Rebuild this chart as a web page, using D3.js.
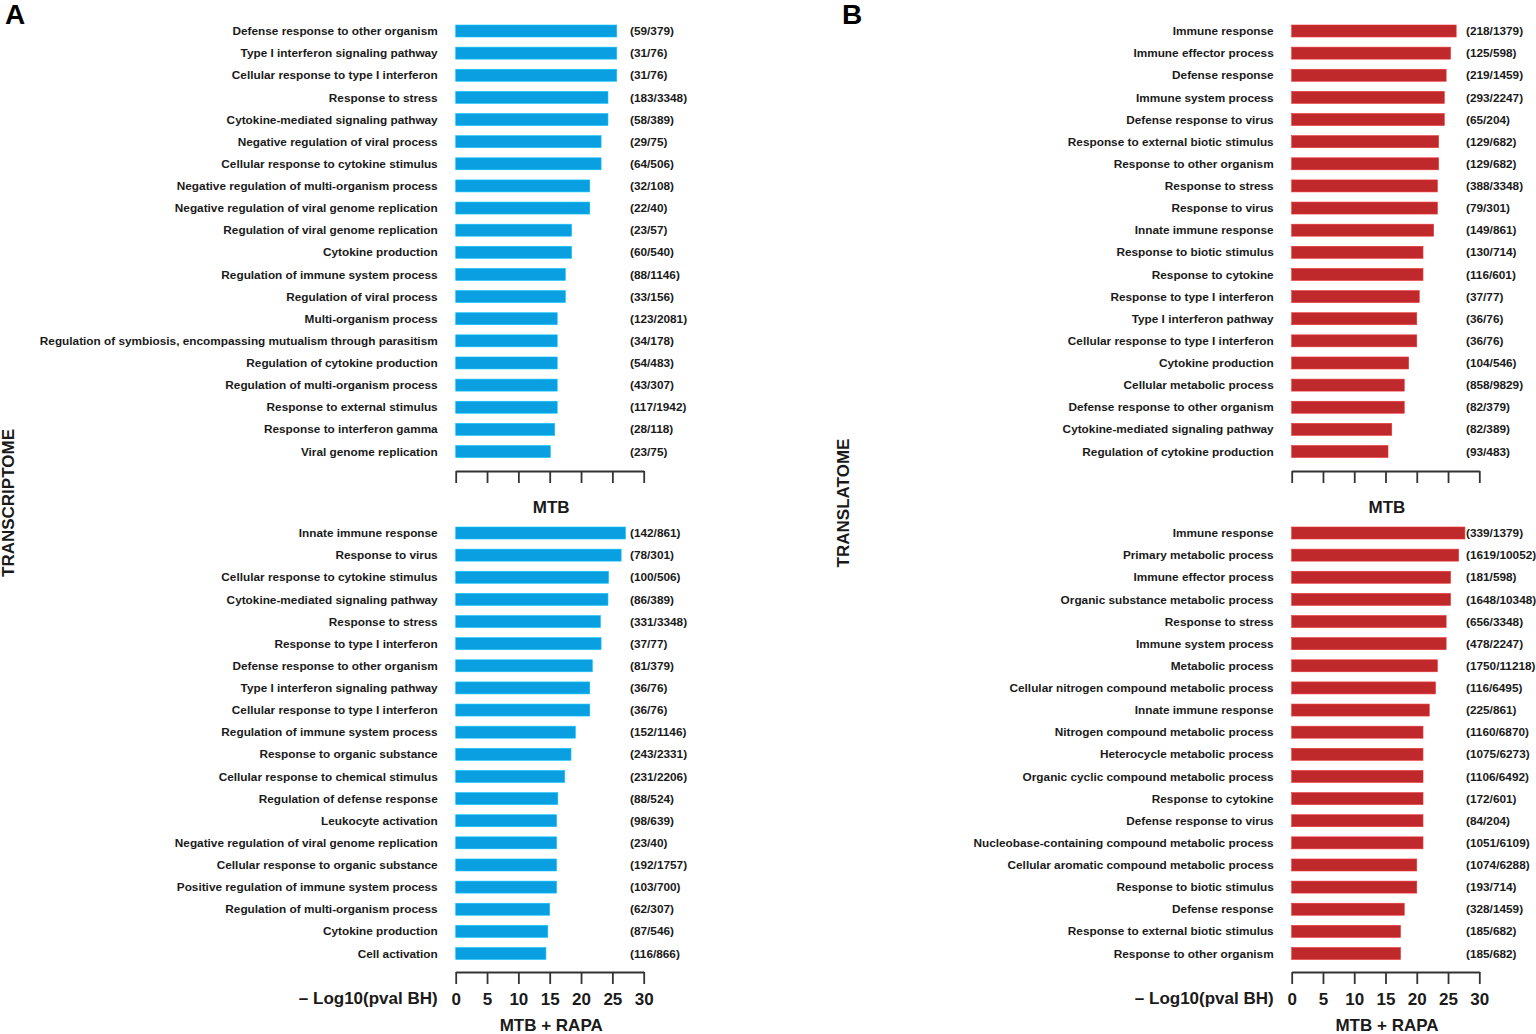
<!DOCTYPE html>
<html><head><meta charset="utf-8">
<script src="https://cdn.jsdelivr.net/npm/d3@7"></script>
<style>
body{margin:0;background:#fff;}
svg{display:block;font-family:"Liberation Sans",Arial,sans-serif;}
</style></head><body>
<svg id="c" width="1536" height="1034"></svg>
<script>
// ---------- DATA ----------
const aTopTerms = ["Defense response to other organism","Type I interferon signaling pathway","Cellular response to type I interferon","Response to stress","Cytokine-mediated signaling pathway","Negative regulation of viral process","Cellular response to cytokine stimulus","Negative regulation of multi-organism process","Negative regulation of viral genome replication","Regulation of viral genome replication","Cytokine production","Regulation of immune system process","Regulation of viral process","Multi-organism process","Regulation of symbiosis, encompassing mutualism through parasitism","Regulation of cytokine production","Regulation of multi-organism process","Response to external stimulus","Response to interferon gamma","Viral genome replication"];
const aTopCounts = ["(59/379)","(31/76)","(31/76)","(183/3348)","(58/389)","(29/75)","(64/506)","(32/108)","(22/40)","(23/57)","(60/540)","(88/1146)","(33/156)","(123/2081)","(34/178)","(54/483)","(43/307)","(117/1942)","(28/118)","(23/75)"];
const aTopValues = [25.7,25.7,25.7,24.3,24.3,23.2,23.2,21.4,21.4,18.5,18.5,17.5,17.5,16.2,16.2,16.2,16.2,16.2,15.8,15.1];

const aBotTerms = ["Innate immune response","Response to virus","Cellular response to cytokine stimulus","Cytokine-mediated signaling pathway","Response to stress","Response to type I interferon","Defense response to other organism","Type I interferon signaling pathway","Cellular response to type I interferon","Regulation of immune system process","Response to organic substance","Cellular response to chemical stimulus","Regulation of defense response","Leukocyte activation","Negative regulation of viral genome replication","Cellular response to organic substance","Positive regulation of immune system process","Regulation of multi-organism process","Cytokine production","Cell activation"];
const aBotCounts = ["(142/861)","(78/301)","(100/506)","(86/389)","(331/3348)","(37/77)","(81/379)","(36/76)","(36/76)","(152/1146)","(243/2331)","(231/2206)","(88/524)","(98/639)","(23/40)","(192/1757)","(103/700)","(62/307)","(87/546)","(116/866)"];
const aBotValues = [27.1,26.4,24.4,24.3,23.1,23.2,21.8,21.4,21.4,19.1,18.4,17.4,16.3,16.1,16.1,16.1,16.1,15.0,14.7,14.4];

const bTopTerms = ["Immune response","Immune effector process","Defense response","Immune system process","Defense response to virus","Response to external biotic stimulus","Response to other organism","Response to stress","Response to virus","Innate immune response","Response to biotic stimulus","Response to cytokine","Response to type I interferon","Type I interferon pathway","Cellular response to type I interferon","Cytokine production","Cellular metabolic process","Defense response to other organism","Cytokine-mediated signaling pathway","Regulation of cytokine production"];
const bTopCounts = ["(218/1379)","(125/598)","(219/1459)","(293/2247)","(65/204)","(129/682)","(129/682)","(388/3348)","(79/301)","(149/861)","(130/714)","(116/601)","(37/77)","(36/76)","(36/76)","(104/546)","(858/9829)","(82/379)","(82/389)","(93/483)"];
const bTopValues = [26.3,25.4,24.7,24.4,24.4,23.5,23.5,23.3,23.3,22.7,21.0,21.0,20.4,20.0,20.0,18.7,18.0,18.0,16.0,15.4];

const bBotTerms = ["Immune response","Primary metabolic process","Immune effector process","Organic substance metabolic process","Response to stress","Immune system process","Metabolic process","Cellular nitrogen compound metabolic process","Innate immune response","Nitrogen compound metabolic process","Heterocycle metabolic process","Organic cyclic compound metabolic process","Response to cytokine","Defense response to virus","Nucleobase-containing compound metabolic process","Cellular aromatic compound metabolic process","Response to biotic stimulus","Defense response","Response to external biotic stimulus","Response to other organism"];
const bBotCounts = ["(339/1379)","(1619/10052)","(181/598)","(1648/10348)","(656/3348)","(478/2247)","(1750/11218)","(116/6495)","(225/861)","(1160/6870)","(1075/6273)","(1106/6492)","(172/601)","(84/204)","(1051/6109)","(1074/6288)","(193/714)","(328/1459)","(185/682)","(185/682)"];
const bBotValues = [27.7,26.7,25.4,25.4,24.7,24.7,23.3,23.0,22.0,21.0,21.0,21.0,21.0,21.0,21.0,20.0,20.0,18.0,17.4,17.4];

const xTicks = [0,5,10,15,20,25,30];
const panelLetters = ["A","B"];
const sideTitles = ["TRANSCRIPTOME","TRANSLATOME"];
const subTitles = ["MTB","MTB + RAPA"];
const axisTitle = "– Log10(pval BH)";

// ---------- DRAW ----------
const svg = d3.select("#c");
const blue = "#0a9fe0", red = "#c0292b", ink = "#1a1a1a";
const fs = 11.8;

function block(g, terms, counts, values, x, yTop, yBot, color, countX){
  const y = d3.scalePoint().domain(d3.range(terms.length)).range([yTop, yBot]);
  const bh = 12;
  g.selectAll("rect.bar").data(values).join("rect")
    .attr("class","bar")
    .attr("x", x(0)).attr("y", (d,i)=>y(i)-bh/2)
    .attr("width", d=>x(d)-x(0)).attr("height", bh)
    .attr("fill", color).attr("stroke", d3.color(color).brighter(0.6)).attr("stroke-width",0.6);
  g.selectAll("text.term").data(terms).join("text")
    .attr("class","term")
    .attr("x", x(0)-18).attr("y",(d,i)=>y(i)).attr("dy","0.35em")
    .attr("text-anchor","end").attr("font-size",fs).attr("font-weight","bold").attr("fill",ink)
    .text(d=>d);
  g.selectAll("text.cnt").data(counts).join("text")
    .attr("class","cnt")
    .attr("x", countX).attr("y",(d,i)=>y(i)).attr("dy","0.35em")
    .attr("font-size",fs).attr("font-weight","bold").attr("fill",ink)
    .text(d=>d);
}

function axis(g, x, yPos, labels){
  const ax = d3.axisBottom(x).tickValues(xTicks).tickSize(12).tickSizeOuter(0).tickPadding(9)
    .tickFormat(labels ? d3.format("d") : ()=>"");
  const a = g.append("g").attr("transform",`translate(0,${yPos})`).call(ax);
  a.select(".domain").attr("stroke","#333").attr("stroke-width",1.8);
  a.selectAll(".tick line").attr("stroke","#333").attr("stroke-width",1.8);
  a.selectAll(".tick text").attr("font-size",17).attr("font-weight","bold").attr("fill",ink)
    .attr("font-family","Liberation Sans, Arial, sans-serif");
}

const panels = [
  {x0:455.7, x1:643.7, color:blue, countX:630, letterX:5, sideX:14,
   top:[aTopTerms,aTopCounts,aTopValues], bot:[aBotTerms,aBotCounts,aBotValues]},
  {x0:1291.7, x1:1479.3, color:red, countX:1466, letterX:842, sideX:849,
   top:[bTopTerms,bTopCounts,bTopValues], bot:[bBotTerms,bBotCounts,bBotValues]}
];

panels.forEach((p,k)=>{
  const g = svg.append("g");
  const x = d3.scaleLinear().domain([0,30]).range([p.x0,p.x1]);
  block(g.append("g"), ...p.top, x, 31, 451.5, p.color, p.countX);
  block(g.append("g"), ...p.bot, x, 533, 953.5, p.color, p.countX);
  axis(g, x, 471, false);
  axis(g, x, 972, true);
  const cx = (p.x0+p.x1)/2 + 1.5;
  g.append("text").attr("x",cx).attr("y",513).attr("text-anchor","middle")
    .attr("font-size",17).attr("font-weight","bold").attr("fill",ink).text(subTitles[0]);
  g.append("text").attr("x",cx).attr("y",1031).attr("text-anchor","middle")
    .attr("font-size",17).attr("font-weight","bold").attr("fill",ink).text(subTitles[1]);
  g.append("text").attr("x",p.x0-18).attr("y",1004).attr("text-anchor","end")
    .attr("font-size",17).attr("font-weight","bold").attr("fill",ink).text(axisTitle);
  g.append("text").attr("x",p.letterX).attr("y",24)
    .attr("font-size",28).attr("font-weight","bold").attr("fill","#000").text(panelLetters[k]);
  g.append("text").attr("transform",`translate(${p.sideX},503) rotate(-90)`)
    .attr("text-anchor","middle")
    .attr("font-size",17).attr("font-weight","bold").attr("fill",ink).text(sideTitles[k]);
});
</script></body></html>
